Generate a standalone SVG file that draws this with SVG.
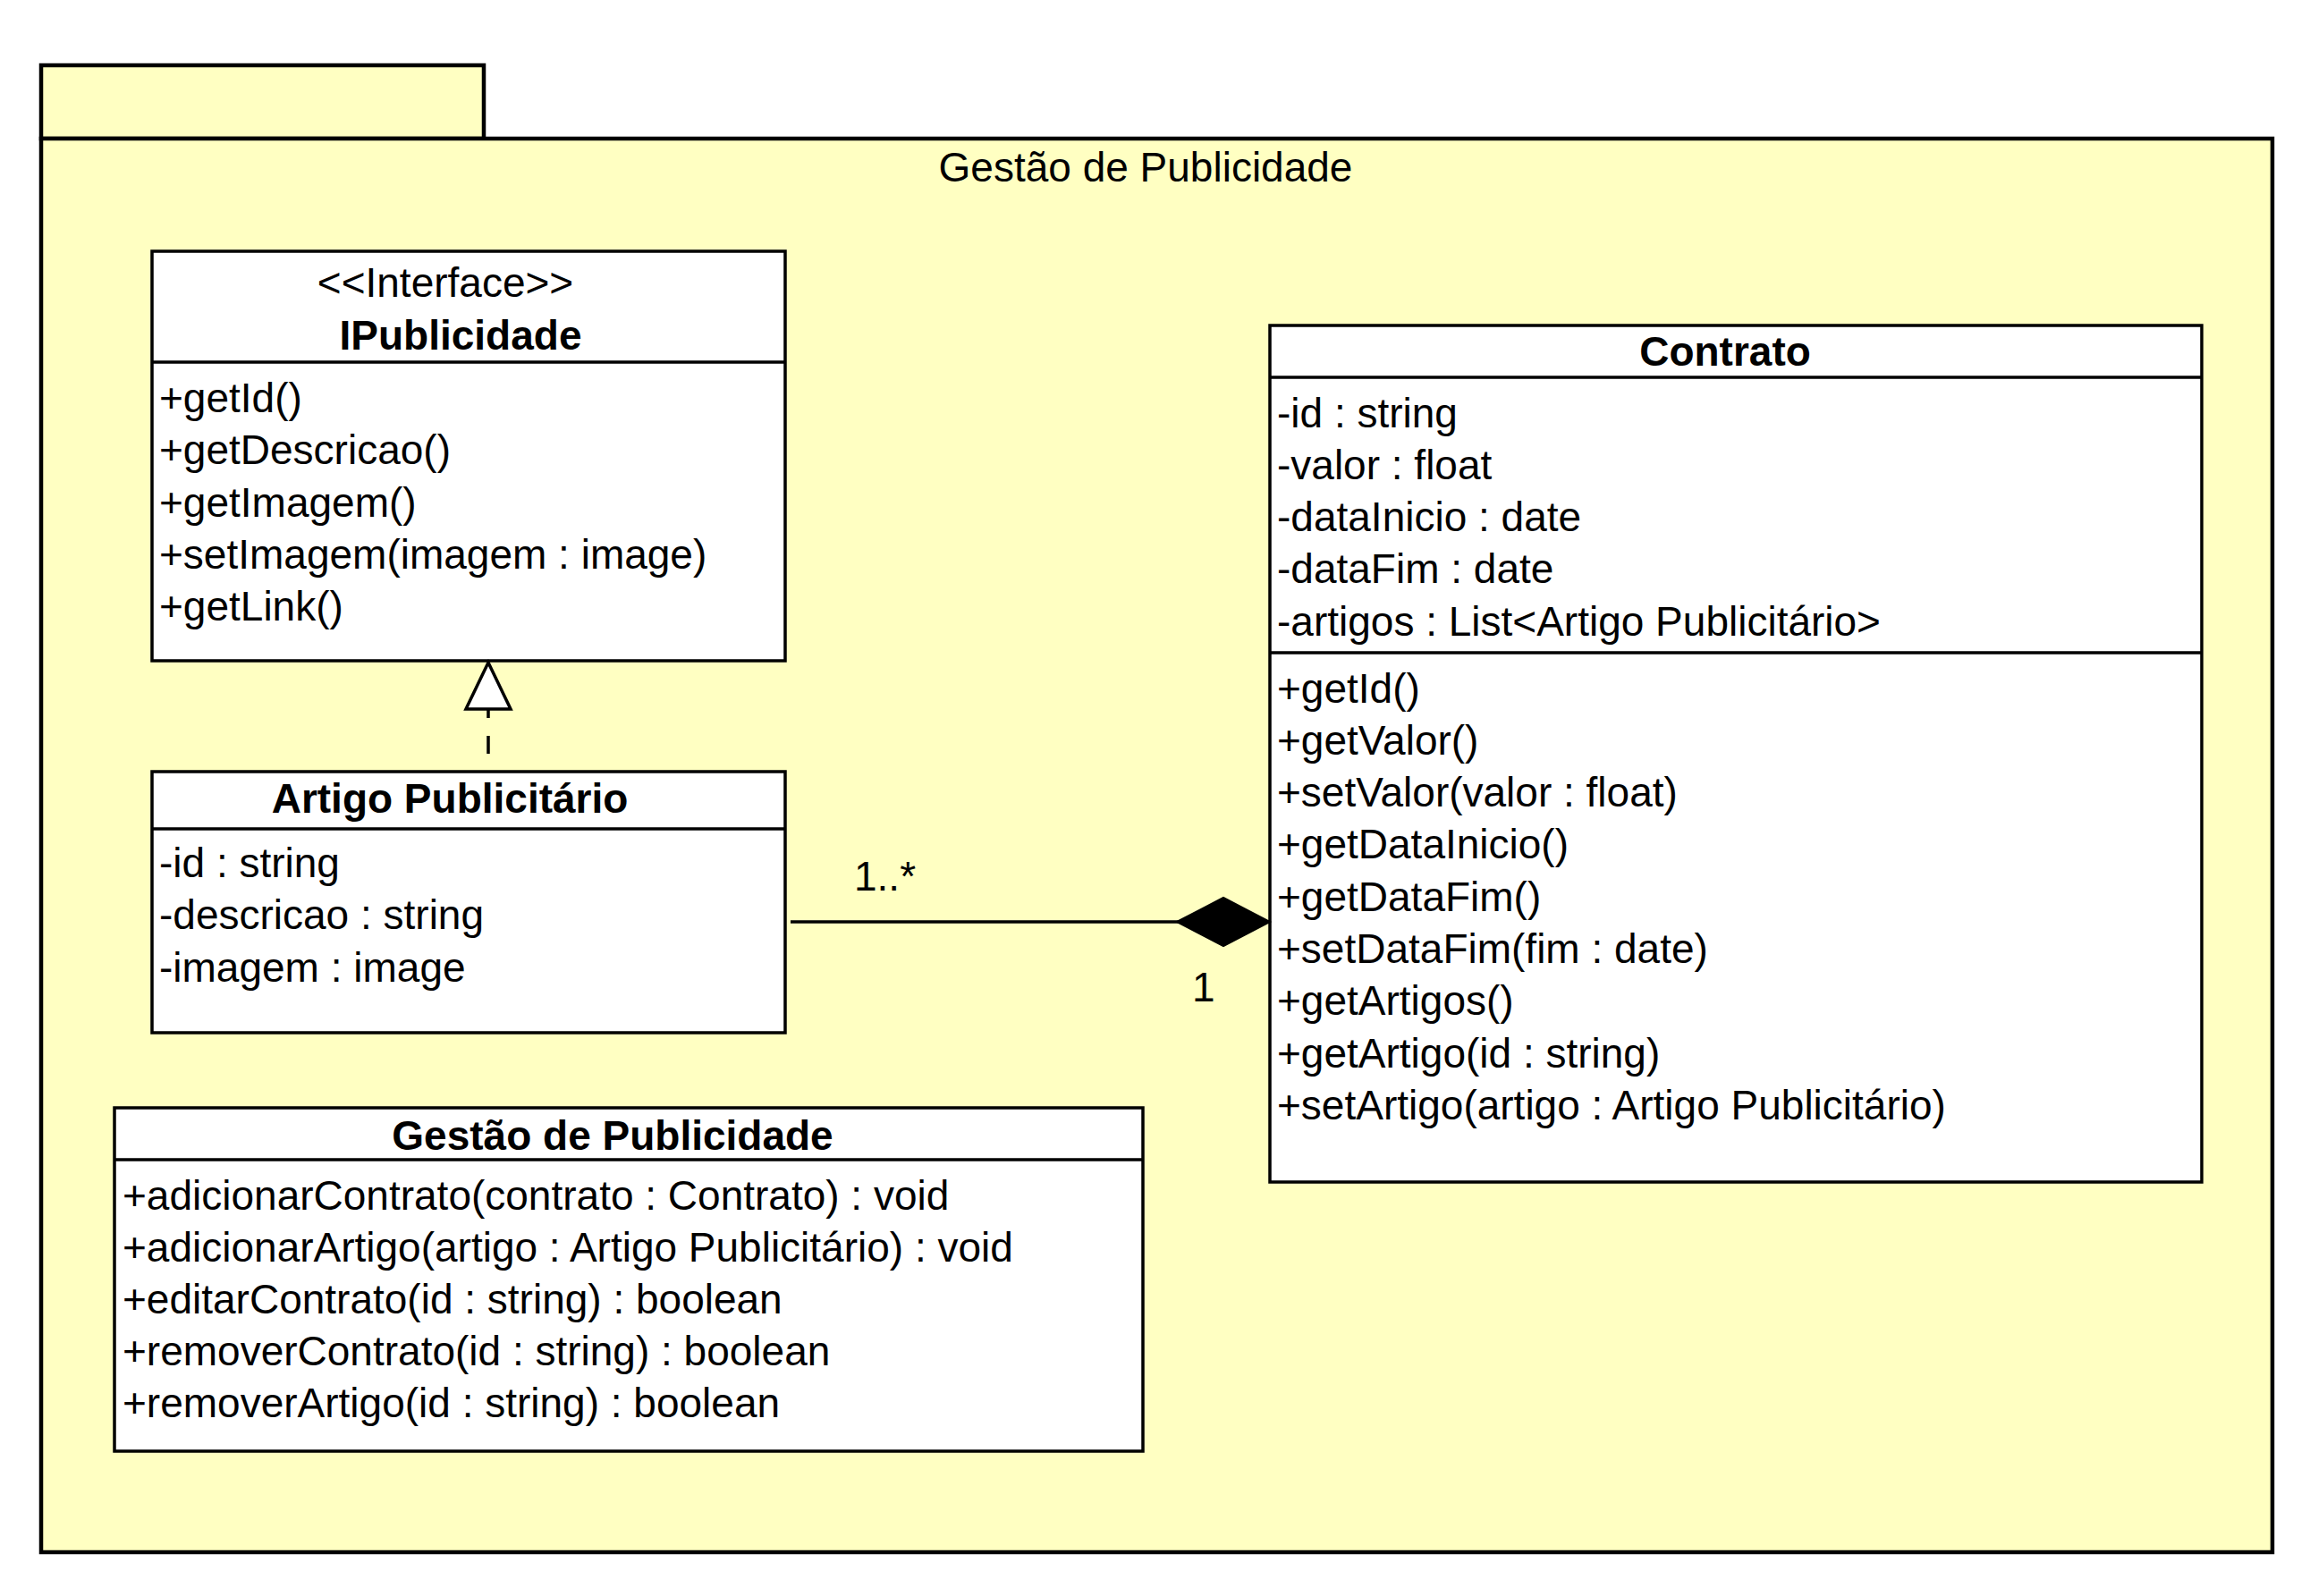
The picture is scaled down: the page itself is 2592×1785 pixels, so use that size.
<svg xmlns="http://www.w3.org/2000/svg" width="2592" height="1785" viewBox="0 0 2592 1785">
<style>
text{font-family:"Liberation Sans",Arial,Helvetica,sans-serif;font-size:46px;fill:#000}
.t{font-weight:bold;text-anchor:middle}
.c{text-anchor:middle}
.box{fill:#fff;stroke:#000;stroke-width:3.5}
.sep{stroke:#000;stroke-width:3.5}
.pkg{fill:#FFFFC2;stroke:#000;stroke-width:4.5}
.conn{fill:none;stroke:#000;stroke-width:3.5}
</style>
<defs>
<marker id="diamond" markerUnits="userSpaceOnUse" viewBox="0 0 104 54" refX="104" refY="27" markerWidth="104" markerHeight="54" orient="auto" overflow="visible">
<path d="M0,27 L52,0 L104,27 L52,54 Z" fill="#000" stroke="#000" stroke-width="2"/>
</marker>
<marker id="hollowTri" markerUnits="userSpaceOnUse" viewBox="0 0 52 50" refX="52" refY="25" markerWidth="52" markerHeight="50" orient="auto" overflow="visible">
<path d="M0,0 L52,25 L0,50 Z" fill="#fff" stroke="#000" stroke-width="3.5" stroke-linejoin="miter"/>
</marker>
</defs>
<rect width="2592" height="1785" fill="#fff"/>
<g id="package">
<rect class="pkg" x="46" y="73" width="495" height="82"/>
<rect class="pkg" x="46" y="155" width="2495" height="1581"/>
<text class="c" x="1281" y="203">Gestão de Publicidade</text>
</g>
<g id="IPublicidade">
<rect class="box" x="170" y="281" width="708" height="458"/>
<line class="sep" x1="170" y1="405" x2="878" y2="405"/>
<text class="c" x="498" y="332">&lt;&lt;Interface&gt;&gt;</text>
<text class="t" x="515" y="391">IPublicidade</text>
<text x="178" y="461">+getId()</text>
<text x="178" y="519.3">+getDescricao()</text>
<text x="178" y="577.6">+getImagem()</text>
<text x="178" y="635.9">+setImagem(imagem : image)</text>
<text x="178" y="694.2">+getLink()</text>
</g>
<g id="ArtigoPublicitario">
<rect class="box" x="170" y="863" width="708" height="292"/>
<line class="sep" x1="170" y1="927" x2="878" y2="927"/>
<text class="t" x="503" y="909">Artigo Publicitário</text>
<text x="178" y="981">-id : string</text>
<text x="178" y="1039.3">-descricao : string</text>
<text x="178" y="1097.6">-imagem : image</text>
</g>
<g id="Contrato">
<rect class="box" x="1420" y="364" width="1042" height="958"/>
<line class="sep" x1="1420" y1="422" x2="2462" y2="422"/>
<line class="sep" x1="1420" y1="730" x2="2462" y2="730"/>
<text class="t" x="1929" y="409">Contrato</text>
<text x="1428" y="477.5">-id : string</text>
<text x="1428" y="535.8">-valor : float</text>
<text x="1428" y="594.1">-dataInicio : date</text>
<text x="1428" y="652.4">-dataFim : date</text>
<text x="1428" y="710.7">-artigos : List&lt;Artigo Publicitário&gt;</text>
<text x="1428" y="785.5">+getId()</text>
<text x="1428" y="843.8">+getValor()</text>
<text x="1428" y="902.1">+setValor(valor : float)</text>
<text x="1428" y="960.4">+getDataInicio()</text>
<text x="1428" y="1018.7">+getDataFim()</text>
<text x="1428" y="1077">+setDataFim(fim : date)</text>
<text x="1428" y="1135.3">+getArtigos()</text>
<text x="1428" y="1193.6">+getArtigo(id : string)</text>
<text x="1428" y="1251.9">+setArtigo(artigo : Artigo Publicitário)</text>
</g>
<g id="GestaoDePublicidade">
<rect class="box" x="128" y="1239" width="1150" height="384"/>
<line class="sep" x1="128" y1="1297" x2="1278" y2="1297"/>
<text class="t" x="685" y="1286">Gestão de Publicidade</text>
<text x="137" y="1353">+adicionarContrato(contrato : Contrato) : void</text>
<text x="137" y="1411">+adicionarArtigo(artigo : Artigo Publicitário) : void</text>
<text x="137" y="1469">+editarContrato(id : string) : boolean</text>
<text x="137" y="1527">+removerContrato(id : string) : boolean</text>
<text x="137" y="1585">+removerArtigo(id : string) : boolean</text>
</g>
<g id="connectors">
<path class="conn" d="M546,843 V741" stroke-dasharray="20 20" marker-end="url(#hollowTri)"/>
<path class="conn" d="M884,1031 H1420" marker-end="url(#diamond)"/>
<text x="955" y="996">1..*</text>
<text x="1333" y="1120">1</text>
</g>
</svg>
